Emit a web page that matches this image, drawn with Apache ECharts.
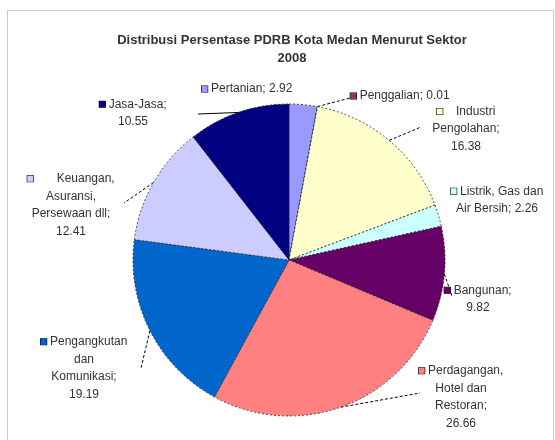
<!DOCTYPE html>
<html>
<head>
<meta charset="utf-8">
<script src="https://cdn.jsdelivr.net/npm/echarts@6/dist/echarts.min.js"></script>
<style>
  html, body { margin: 0; padding: 0; background: #fff; }
  #chart { width: 555px; height: 440px; }
</style>
</head>
<body>
<div id="chart"></div>
<script>
// PDRB Kota Medan 2008 — share of each sector (percent)
const categories = [
  'Pertanian',
  'Penggalian',
  'Industri Pengolahan',
  'Listrik, Gas dan Air Bersih',
  'Bangunan',
  'Perdagangan, Hotel dan Restoran',
  'Pengangkutan dan Komunikasi',
  'Keuangan, Asuransi, Persewaan dll',
  'Jasa-Jasa'
];
const values = [2.92, 0.01, 16.38, 2.26, 9.82, 26.66, 19.19, 12.41, 10.55];

// Wrapped name lines used in the slice labels
const labelNames = [
  ['Pertanian'],
  ['Penggalian'],
  ['Industri', 'Pengolahan'],
  ['Listrik, Gas dan', 'Air Bersih'],
  ['Bangunan'],
  ['Perdagangan,', 'Hotel dan', 'Restoran'],
  ['Pengangkutan', 'dan', 'Komunikasi'],
  ['Keuangan,', 'Asuransi,', 'Persewaan dll'],
  ['Jasa-Jasa']
];
// whether the value sits on the same line as the last name line
const valueInline = [true, true, false, true, false, false, false, false, false];

const colors = ['#9999FF', '#993366', '#FFFFCC', '#CCFFFF', '#660066',
                '#FF8080', '#0066CC', '#CCCCFF', '#000080'];

// Label box centres and leader-line end points (null = no leader)
const labelCenters = [
  [247, 89], [400, 96], [466, 129], [497, 200], [478, 299],
  [461, 397], [84, 368], [71, 205], [133, 113]
];
const leaderEnds = [
  null, [350, 98], [421, 127], null, [452, 296],
  [420, 393], [141, 368], [124, 203], [198, 114]
];
const leaderSolid = [false, false, false, false, false, false, false, false, true];
const markerGap = ['', '', '   ', '', '', '', '', '      ', ''];

const FONT = '"Liberation Sans", Arial, sans-serif';

function labelText(i) {
  const lines = labelNames[i].slice();
  const last = lines.length - 1;
  const v = values[i].toFixed(2);
  if (valueInline[i]) {
    lines[last] = lines[last] + '; ' + v;
  } else {
    lines[last] = lines[last] + ';';
    lines.push(v);
  }
  lines[0] = '{m|}' + ' ' + markerGap[i] + lines[0];
  return lines.join('\n');
}

const data = categories.map((name, i) => ({
  name: name,
  value: values[i],
  itemStyle: { color: colors[i] },
  label: {
    formatter: labelText(i),
    rich: {
      m: {
        width: 6, height: 6,
        backgroundColor: colors[i],
        borderColor: '#000', borderWidth: 0.6
      }
    }
  },
  labelLine: {
    show: leaderEnds[i] !== null,
    lineStyle: { type: leaderSolid[i] ? 'solid' : [3, 2] }
  }
}));

const chart = echarts.init(document.getElementById('chart'), null, { renderer: 'canvas' });

chart.setOption({
  backgroundColor: '#ffffff',
  animation: false,
  title: {
    text: 'Distribusi Persentase PDRB Kota Medan Menurut Sektor\n2008',
    left: 287,
    top: 26,
    textAlign: 'center',
    textStyle: {
      fontFamily: FONT,
      fontSize: 13,
      fontWeight: 'bold',
      color: '#333',
      lineHeight: 18
    }
  },
  graphic: [{
    type: 'rect',
    shape: { x: 7.5, y: 10.5, width: 546, height: 432 },
    style: { fill: 'none', stroke: '#c8c8c8', lineWidth: 1 },
    silent: true,
    z: -1
  }],
  series: [{
    type: 'pie',
    center: [289, 260],
    radius: 156,
    startAngle: 90,
    clockwise: true,
    avoidLabelOverlap: false,
    itemStyle: {
      borderColor: '#222',
      borderWidth: 0.8,
      borderType: [2, 2]
    },
    label: {
      show: true,
      position: 'outside',
      fontFamily: FONT,
      fontSize: 12,
      color: '#333',
      lineHeight: 17.5,
      align: 'center'
    },
    labelLine: {
      show: true,
      length: 10,
      length2: 10,
      lineStyle: { color: '#000', width: 1 }
    },
    labelLayout: function (p) {
      const i = p.dataIndex;
      const c = labelCenters[i];
      const out = { x: c[0], y: c[1], align: 'center', verticalAlign: 'middle' };
      const end = leaderEnds[i];
      if (end && p.labelLinePoints && p.labelLinePoints.length) {
        out.labelLinePoints = [p.labelLinePoints[0], end, end];
      }
      return out;
    },
    data: data
  }]
});
</script>
</body>
</html>
